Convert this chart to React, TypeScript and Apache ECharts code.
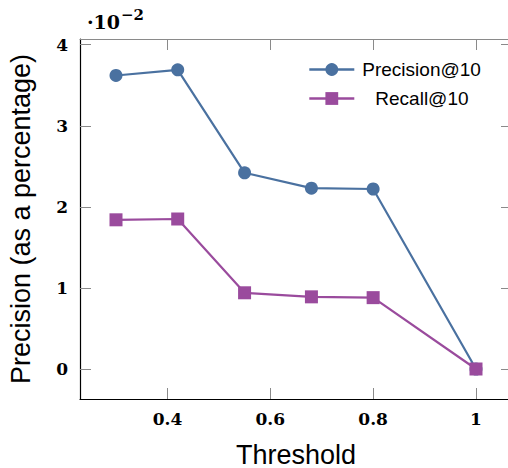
import React, { useEffect, useRef } from 'react';
import * as echarts from 'echarts';

const thresholds = [0.3, 0.42, 0.55, 0.68, 0.8, 1];
const precision = [3.62, 3.69, 2.42, 2.23, 2.22, 0];
const recall = [1.84, 1.85, 0.94, 0.89, 0.88, 0];
const xTicks = [0.4, 0.6, 0.8, 1];
const yTicks = [0, 1, 2, 3, 4];
const seriesNames = ['Precision@10', 'Recall@10'];

const BLUE = '#4a71a0';
const PURPLE = '#9a4b9d';
const GRAY = '#8a8a8a';
const SERIF = 'DejaVu Serif';
const SANS = 'Liberation Sans';

export default function App() {
  const ref = useRef<HTMLDivElement>(null);
  useEffect(() => {
    document.body.style.margin = '0';
    const chart = echarts.init(ref.current!, null, { renderer: 'svg' });
    const tickStyle = { show: true, inside: true, length: 11, lineStyle: { color: GRAY, width: 1 } };
    const labelStyle = { fontFamily: SERIF, fontWeight: 'bold' as const, fontSize: 17, color: '#000' };
    chart.setOption({
      animation: false,
      grid: { left: 80, top: 39, width: 432, height: 360, containLabel: false, outerBoundsMode: 'none' },
      graphic: [
        { type: 'text', x: 87, y: 21.5, style: { text: '·10', font: `bold 19px "${SERIF}"`, fill: '#000', verticalAlign: 'middle' } },
        { type: 'text', x: 121, y: 15, style: { text: '−2', font: `bold 15px "${SERIF}"`, fill: '#000', verticalAlign: 'middle' } },
      ],
      legend: [
        {
          data: [seriesNames[0]], left: 308, top: 60, padding: 0, itemWidth: 45, itemHeight: 16,
          lineStyle: { width: 2.6 },
          textStyle: { fontFamily: SANS, fontSize: 19, color: '#000', padding: [0, 0, 0, 3] },
        },
        {
          data: [seriesNames[1]], left: 308, top: 89, padding: 0, itemWidth: 45, itemHeight: 16,
          lineStyle: { width: 2.6 },
          textStyle: { fontFamily: SANS, fontSize: 19, color: '#000', padding: [0, 0, 0, 16] },
        },
      ],
      xAxis: [
        {
          type: 'value', min: 0.23, max: 1.07, position: 'bottom',
          name: 'Threshold', nameLocation: 'middle', nameGap: 42,
          nameTextStyle: { fontFamily: SANS, fontSize: 27, color: '#000' },
          axisLine: { show: true, onZero: false, lineStyle: { color: '#000', width: 1.2 } },
          axisTick: { ...tickStyle, customValues: xTicks },
          axisLabel: { ...labelStyle, margin: 11, customValues: xTicks, formatter: (v: number) => (v === 1 ? '1' : v.toFixed(1)) },
          splitLine: { show: false },
        },
        {
          type: 'value', min: 0.23, max: 1.07, position: 'top',
          axisLine: { show: true, onZero: false, lineStyle: { color: GRAY, width: 1 } },
          axisTick: { ...tickStyle, customValues: xTicks },
          axisLabel: { show: false },
          splitLine: { show: false },
        },
      ],
      yAxis: [
        {
          type: 'value', min: -0.37, max: 4.07, position: 'left',
          name: 'Precision (as a percentage)', nameLocation: 'middle', nameGap: 46,
          nameTextStyle: { fontFamily: SANS, fontSize: 27, color: '#000' },
          axisLine: { show: true, onZero: false, lineStyle: { color: '#000', width: 1.2 } },
          axisTick: { ...tickStyle, customValues: yTicks },
          axisLabel: { ...labelStyle, margin: 12, customValues: yTicks },
          splitLine: { show: false },
        },
        {
          type: 'value', min: -0.37, max: 4.07, position: 'right',
          axisLine: { show: true, onZero: false, lineStyle: { color: GRAY, width: 1 } },
          axisTick: { ...tickStyle, customValues: yTicks },
          axisLabel: { show: false },
          splitLine: { show: false },
        },
      ],
      series: [
        {
          name: seriesNames[0], type: 'line', xAxisIndex: 0, yAxisIndex: 0,
          data: thresholds.map((t, i) => [t, precision[i]]),
          symbol: 'circle', symbolSize: 13,
          itemStyle: { color: BLUE }, lineStyle: { color: BLUE, width: 2.2 },
        },
        {
          name: seriesNames[1], type: 'line', xAxisIndex: 0, yAxisIndex: 0,
          data: thresholds.map((t, i) => [t, recall[i]]),
          symbol: 'rect', symbolSize: 13,
          itemStyle: { color: PURPLE }, lineStyle: { color: PURPLE, width: 2.2 },
        },
      ],
    });
    return () => chart.dispose();
  }, []);
  return <div ref={ref} style={{ width: 508, height: 468 }} />;
}
